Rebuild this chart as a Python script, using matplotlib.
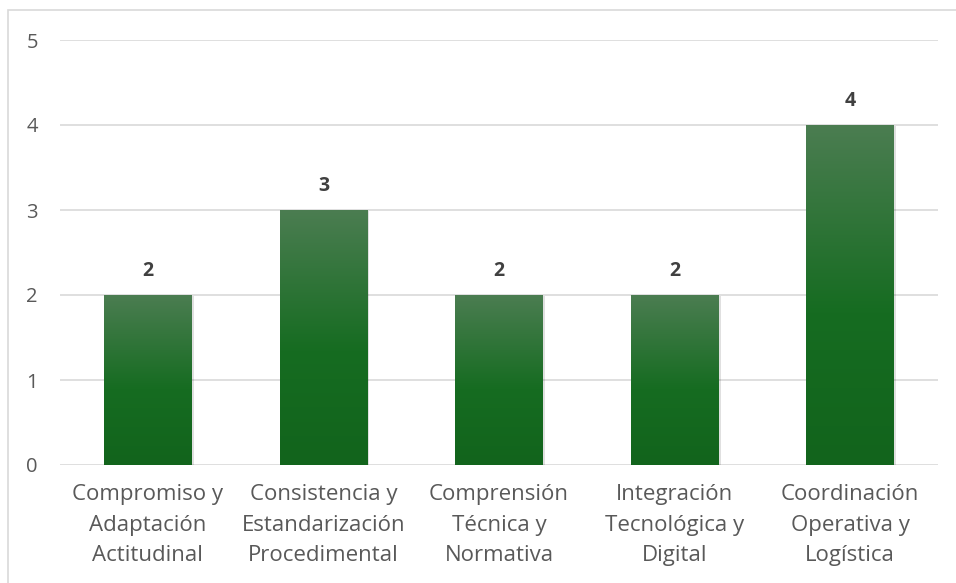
import matplotlib
matplotlib.use("Agg")
import matplotlib.pyplot as plt
import numpy as np
from matplotlib.colors import LinearSegmentedColormap
from matplotlib.patches import Rectangle

categories = [
    "Compromiso y\nAdaptación\nActitudinal",
    "Consistencia y\nEstandarización\nProcedimental",
    "Comprensión\nTécnica y\nNormativa",
    "Integración\nTecnológica y\nDigital",
    "Coordinación\nOperativa y\nLogística",
]
values = [2, 3, 2, 2, 4]
y_ticks = [0, 1, 2, 3, 4, 5]

plt.rcParams["font.family"] = ["Open Sans", "DejaVu Sans"]

fig = plt.figure(figsize=(9.56, 5.83), dpi=100)
ax = fig.add_axes([60 / 956, 1 - 465 / 583, 878 / 956, 425 / 583])

# light frame around the chart area
fig.patches.append(Rectangle((8 / 956, -0.02), 1.0, 1 - 10 / 583 + 0.02,
                             transform=fig.transFigure, fill=False,
                             edgecolor="#d9d9d9", linewidth=1.2, zorder=0))

green = LinearSegmentedColormap.from_list(
    "green_fade", [(0.0, "#12641c"), (0.45, "#166c21"), (1.0, "#4b7d51")])
grad = np.linspace(0, 1, 256).reshape(-1, 1)

width = 0.5
x = np.arange(len(values))
for xi, v in zip(x, values):
    x0, x1 = xi - width / 2, xi + width / 2
    # soft shadow
    ax.add_patch(Rectangle((x0 + 0.012, -0.02), width, v + 0.01,
                           facecolor="#000000", alpha=0.12, linewidth=0, zorder=2))
    bar = Rectangle((x0, 0), width, v, facecolor="none", linewidth=0, zorder=3)
    ax.add_patch(bar)
    im = ax.imshow(grad, extent=[x0, x1, 0, v], origin="lower", cmap=green,
                   aspect="auto", zorder=3, interpolation="bicubic")
    im.set_clip_path(bar)
    ax.text(xi, v + 0.17, str(v), ha="center", va="bottom", fontsize=14,
            fontweight="bold", color="#404040")

ax.set_xlim(-0.5, len(values) - 0.5)
ax.set_ylim(0, 5)
ax.set_yticks(y_ticks)
ax.set_xticks(x)
ax.set_xticklabels(categories, fontsize=16, color="#595959", linespacing=1.58)
ax.tick_params(axis="y", labelsize=14.5, labelcolor="#595959", length=0, pad=16)
ax.tick_params(axis="x", length=0, pad=14)
ax.yaxis.grid(True, color="#d9d9d9", linewidth=1.2, zorder=0)
ax.set_axisbelow(True)
for s in ax.spines.values():
    s.set_visible(False)

fig.savefig("out.png", dpi=100)
